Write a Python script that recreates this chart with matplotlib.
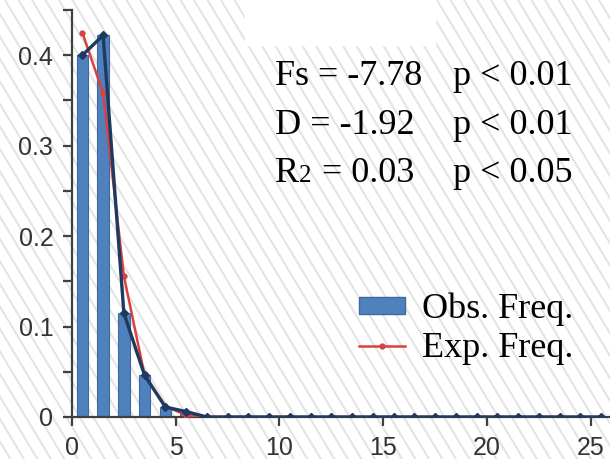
import numpy as np
import matplotlib
matplotlib.use("Agg")
import matplotlib.pyplot as plt
from matplotlib.lines import Line2D
from matplotlib.patches import Rectangle, Patch

# bin centres and frequencies
bins = np.arange(0.5, 26, 1.0)
obs_freq = [0.400, 0.422, 0.115, 0.046, 0.011, 0.006] + [0.0] * 20
exp_freq = [0.425, 0.358, 0.156, 0.046, 0.012, 0.002] + [0.0] * 20

y_ticks = [0, 0.05, 0.1, 0.15, 0.2, 0.25, 0.3, 0.35, 0.4, 0.45]
y_labels = ["0", "", "0.1", "", "0.2", "", "0.3", "", "0.4", ""]
x_ticks = [0, 5, 10, 15, 20, 25]

stats_rows = [("Fs = -7.78", "p < 0.01"),
              ("D = -1.92", "p < 0.01"),
              ("R", "p < 0.05")]

W, H = 610, 459
fig = plt.figure(figsize=(W / 100, H / 100), dpi=100)


def fx(px):
    return px / W


def fy(py):
    return 1 - py / H


# diagonal background stripes
for x0 in np.arange(-400, W + 20, 13.5):
    fig.add_artist(Line2D([fx(x0), fx(x0 + 0.6 * H)], [1, 0],
                          transform=fig.transFigure, color="#e4e4e4",
                          lw=1.5, zorder=-2))
fig.add_artist(Rectangle((fx(245), fy(45)), fx(190), 45 / H,
                         transform=fig.transFigure, color="white", zorder=-1))

ax = fig.add_axes([fx(72), 1 - 417 / H, 1 - fx(72), (417 - 10) / H])
ax.patch.set_alpha(0)

ax.bar(bins, obs_freq, width=0.55, color="#4f81bd", edgecolor="#3d6a9e",
       linewidth=0.8, zorder=2)
ax.plot(bins, exp_freq, color="#d9413f", lw=1.8, marker="o", ms=3.5, zorder=3)
ax.plot(bins, obs_freq, color="#1f3a60", lw=2.4, marker="D", ms=4.5, zorder=4)

ax.set_xlim(0, 25.93)
ax.set_ylim(0, 0.45)
ax.set_xticks(x_ticks)
ax.set_yticks(y_ticks)
ax.set_yticklabels(y_labels)
for s in ["top", "right"]:
    ax.spines[s].set_visible(False)
for s in ["left", "bottom"]:
    ax.spines[s].set_color("#404040")
    ax.spines[s].set_linewidth(1.6)
ax.tick_params(direction="out", length=6.5, width=1.6, color="#404040",
               labelsize=18, labelcolor="#333333", pad=7)
for lab in ax.get_xticklabels() + ax.get_yticklabels():
    lab.set_fontfamily("Liberation Sans")

serif = "Liberation Serif"
base = [85, 134, 182]
for (left, right), yb in zip(stats_rows, base):
    fig.text(fx(275), fy(yb), left, family=serif, fontsize=26, va="baseline")
    fig.text(fx(453), fy(yb), right, family=serif, fontsize=26, va="baseline")
fig.text(fx(299), fy(base[2]), "2", family=serif, fontsize=18, va="baseline")
fig.text(fx(322), fy(base[2]), "= 0.03", family=serif, fontsize=26,
         va="baseline")

handles = [Patch(facecolor="#4f81bd", edgecolor="#3d6a9e"),
           Line2D([], [], color="#d9413f", lw=1.8, marker="o", ms=3.5)]
ax.legend(handles, ["Obs. Freq.", "Exp. Freq."], loc="upper left",
          bbox_to_anchor=(fx(359), fy(293)), bbox_transform=fig.transFigure,
          frameon=False, prop={"family": serif, "size": 26},
          handlelength=1.27, handleheight=0.38, handletextpad=0.47,
          labelspacing=0.15, borderpad=0, borderaxespad=0)

fig.savefig("out.png", dpi=100)
